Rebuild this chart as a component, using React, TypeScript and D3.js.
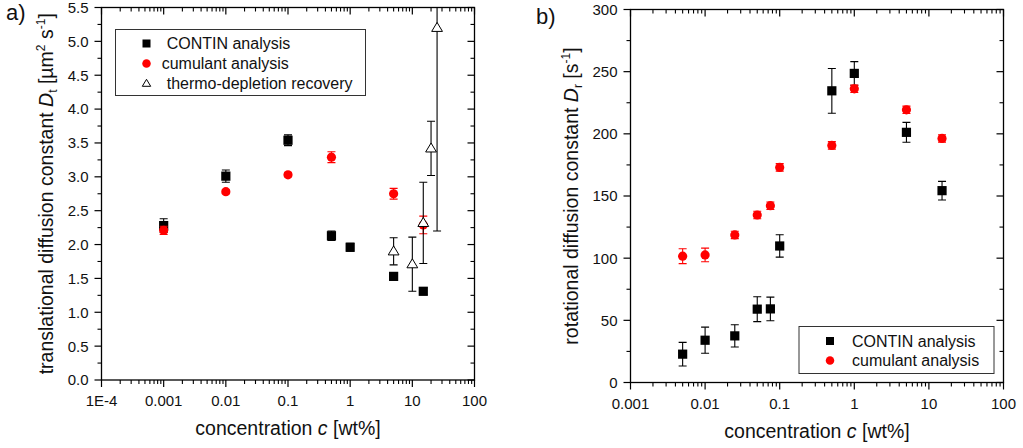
import React from "react";
import * as d3 from "d3";

const FONT = '"Liberation Sans", Arial, Helvetica, sans-serif';

// ---------- Panel a) translational diffusion constant ----------
const aContinC = [0.001, 0.01, 0.1, 0.5, 1, 5, 15];
const aContinD = [2.28, 3.01, 3.54, 2.13, 1.96, 1.53, 1.31];
const aContinErr = [0.1, 0.09, 0.08, 0.07, 0.06, 0.05, 0.05];

const aCumC = [0.001, 0.01, 0.1, 0.5, 5, 15];
const aCumD = [2.21, 2.78, 3.03, 3.29, 2.75, 2.29];
const aCumErr = [0.06, 0.03, 0.03, 0.08, 0.08, 0.13];

const aTdrC = [5, 10, 15, 20, 25];
const aTdrD = [1.9, 1.71, 2.32, 3.42, 5.2];
const aTdrErr = [0.2, 0.4, 0.6, 0.4, 3.0];

const aXTickLabels = ["1E-4", "0.001", "0.01", "0.1", "1", "10", "100"];
const aYTicks = [0, 0.5, 1, 1.5, 2, 2.5, 3, 3.5, 4, 4.5, 5, 5.5];

// ---------- Panel b) rotational diffusion constant ----------
const bC = [0.005, 0.01, 0.025, 0.05, 0.075, 0.1, 0.5, 1, 5, 15];
const bContinD = [22.8, 34, 37.5, 59, 59.2, 109.8, 234.6, 248.6, 201.2, 154.3];
const bContinErr = [9.5, 10.5, 9, 10, 9.5, 9, 18, 9.5, 8, 7.5];
const bCumD = [101.6, 102.6, 118.7, 134.7, 142.2, 173, 190.7, 236.2, 219.3, 196.3];
const bCumErr = [6, 5.5, 3, 3, 3, 3, 3, 3, 3, 3];

const bXTickLabels = ["0.001", "0.01", "0.1", "1", "10", "100"];
const bYTicks = [0, 50, 100, 150, 200, 250, 300];

const legendNames = ["CONTIN analysis", "cumulant analysis", "thermo-depletion recovery"];

type Kind = "square" | "circle" | "triangle";
type Series = { c: number[]; v: number[]; e: number[]; kind: Kind; color: string };

function Marker({ kind, x, y, s, color }: { kind: Kind; x: number; y: number; s: number; color: string }) {
  if (kind === "square")
    return <rect x={x - s / 2} y={y - s / 2} width={s} height={s} fill={color} />;
  if (kind === "circle") return <circle cx={x} cy={y} r={s / 2} fill={color} />;
  const w = s * 1.2;
  const h = s;
  return (
    <path
      d={`M${x},${y - h * 0.6}L${x + w / 2},${y + h * 0.4}L${x - w / 2},${y + h * 0.4}Z`}
      fill="#fff"
      stroke="#000"
      strokeWidth={1}
    />
  );
}

type PanelProps = {
  id: string;
  x0: number;
  x1: number;
  y0: number;
  y1: number;
  xDomain: [number, number];
  xLabels: string[];
  yTicks: number[];
  yFmt: (v: number) => string;
  series: Series[];
  legend: { x: number; y: number; w: number; h: number; rows: { kind: Kind; color: string; name: string; tx: number; dy: number; s: number }[] };
  yTitleX: number;
  yTitle: React.ReactNode;
  tag: string;
  tagX: number;
  tagY: number;
};

function Panel(p: PanelProps) {
  const x = d3.scaleLog().domain(p.xDomain).range([p.x0, p.x1]);
  const yMax = p.yTicks[p.yTicks.length - 1];
  const y = d3.scaleLinear().domain([p.yTicks[0], yMax]).range([p.y1, p.y0]);
  const lo = Math.round(Math.log10(p.xDomain[0]));
  const hi = Math.round(Math.log10(p.xDomain[1]));
  const majors: number[] = [];
  const minors: number[] = [];
  for (let d = lo; d <= hi; d++) {
    majors.push(Math.pow(10, d));
    if (d < hi) for (let k = 2; k <= 9; k++) minors.push(k * Math.pow(10, d));
  }
  const step = p.yTicks[1] - p.yTicks[0];
  const yMinors: number[] = [];
  for (let i = 0; i < p.yTicks.length - 1; i++) yMinors.push(p.yTicks[i] + step / 2);
  const MJ = 7;
  const MN = 4;
  const clipId = `clip-${p.id}`;
  return (
    <g>
      <defs>
        <clipPath id={clipId}>
          <rect x={p.x0} y={p.y0} width={p.x1 - p.x0} height={p.y1 - p.y0} />
        </clipPath>
      </defs>
      {/* frame */}
      <rect x={p.x0} y={p.y0} width={p.x1 - p.x0} height={p.y1 - p.y0} fill="none" stroke="#000" strokeWidth={1.3} />
      {/* x ticks */}
      {majors.map((v, i) => {
        const px = x(v);
        return (
          <g key={"xm" + i}>
            <line x1={px} x2={px} y1={p.y1} y2={p.y1 + MJ} stroke="#000" strokeWidth={1.2} />
            <line x1={px} x2={px} y1={p.y0} y2={p.y0 + MJ} stroke="#000" strokeWidth={1.2} />
            <text x={px} y={p.y1 + 26} fontSize={15} textAnchor="middle" fontFamily={FONT} fill="#111">
              {p.xLabels[i]}
            </text>
          </g>
        );
      })}
      {minors.map((v, i) => {
        const px = x(v);
        return (
          <g key={"xn" + i}>
            <line x1={px} x2={px} y1={p.y1} y2={p.y1 + MN} stroke="#000" strokeWidth={1.1} />
            <line x1={px} x2={px} y1={p.y0} y2={p.y0 + MN} stroke="#000" strokeWidth={1.1} />
          </g>
        );
      })}
      {/* y ticks */}
      {p.yTicks.map((v, i) => {
        const py = y(v);
        return (
          <g key={"ym" + i}>
            <line x1={p.x0 - MJ} x2={p.x0} y1={py} y2={py} stroke="#000" strokeWidth={1.2} />
            <line x1={p.x1 - MJ} x2={p.x1} y1={py} y2={py} stroke="#000" strokeWidth={1.2} />
            <text x={p.x0 - 13} y={py + 5.4} fontSize={15} textAnchor="end" fontFamily={FONT} fill="#111">
              {p.yFmt(v)}
            </text>
          </g>
        );
      })}
      {yMinors.map((v, i) => {
        const py = y(v);
        return (
          <g key={"yn" + i}>
            <line x1={p.x0 - MN} x2={p.x0} y1={py} y2={py} stroke="#000" strokeWidth={1.1} />
            <line x1={p.x1 - MN} x2={p.x1} y1={py} y2={py} stroke="#000" strokeWidth={1.1} />
          </g>
        );
      })}
      {/* data */}
      <g clipPath={`url(#${clipId})`}>
        {p.series.map((s, si) => (
          <g key={"s" + si}>
            {s.c.map((c, i) => {
              const px = x(c);
              const yt = y(s.v[i] + s.e[i]);
              const yb = y(s.v[i] - s.e[i]);
              const col = s.kind === "circle" ? s.color : "#000";
              return (
                <g key={"e" + i}>
                  <line x1={px} x2={px} y1={yt} y2={yb} stroke={col} strokeWidth={1.1} />
                  <line x1={px - 4} x2={px + 4} y1={yt} y2={yt} stroke={col} strokeWidth={1.1} />
                  <line x1={px - 4} x2={px + 4} y1={yb} y2={yb} stroke={col} strokeWidth={1.1} />
                </g>
              );
            })}
            {s.c.map((c, i) => (
              <Marker key={"m" + i} kind={s.kind} x={x(c)} y={y(s.v[i])} s={s.kind === "triangle" ? 9 : 9.2} color={s.color} />
            ))}
          </g>
        ))}
      </g>
      {/* legend */}
      <rect x={p.legend.x} y={p.legend.y} width={p.legend.w} height={p.legend.h} fill="#fff" stroke="#333" strokeWidth={1} />
      {p.legend.rows.map((r, i) => (
        <g key={"l" + i}>
          <Marker kind={r.kind} x={p.legend.x + 31} y={p.legend.y + r.dy} s={r.s} color={r.color} />
          <text x={r.tx} y={p.legend.y + r.dy + 5.5} fontSize={16} fontFamily={FONT} fill="#111">
            {r.name}
          </text>
        </g>
      ))}
      {/* axis titles */}
      <text
        x={(p.x0 + p.x1) / 2}
        y={p.y1 + 55}
        fontSize={19.5}
        textAnchor="middle"
        fontFamily={FONT}
        fill="#111"
      >
        concentration <tspan fontStyle="italic">c</tspan> [wt%]
      </text>
      <text
        transform={`translate(${p.yTitleX},${(p.y0 + p.y1) / 2}) rotate(-90)`}
        fontSize={19.5}
        textAnchor="middle"
        fontFamily={FONT}
        fill="#111"
      >
        {p.yTitle}
      </text>
      <text x={p.tagX} y={p.tagY} fontSize={22} fontFamily={FONT} fill="#111">
        {p.tag}
      </text>
    </g>
  );
}

export default function App() {
  const aSeries: Series[] = [
    { c: aContinC, v: aContinD, e: aContinErr, kind: "square", color: "#000" },
    { c: aCumC, v: aCumD, e: aCumErr, kind: "circle", color: "#ff0000" },
    { c: aTdrC, v: aTdrD, e: aTdrErr, kind: "triangle", color: "#000" },
  ];
  const bSeries: Series[] = [
    { c: bC, v: bContinD, e: bContinErr, kind: "square", color: "#000" },
    { c: bC, v: bCumD, e: bCumErr, kind: "circle", color: "#ff0000" },
  ];
  return (
    <svg
      width={1023}
      height={448}
      style={{ position: "absolute", left: 0, top: 0, background: "#fff" }}
    >
      <rect x={0} y={0} width={1023} height={448} fill="#fff" />
      <Panel
        id="a"
        x0={101.5}
        x1={474.5}
        y0={7.5}
        y1={380}
        xDomain={[1e-4, 100]}
        xLabels={aXTickLabels}
        yTicks={aYTicks}
        yFmt={(v) => v.toFixed(1)}
        series={aSeries}
        legend={{
          x: 115.5,
          y: 29.5,
          w: 250,
          h: 66,
          rows: [
            { kind: "square", color: "#000", name: legendNames[0], tx: 166.7, dy: 14, s: 8 },
            { kind: "circle", color: "#ff0000", name: legendNames[1], tx: 161.7, dy: 34, s: 8.5 },
            { kind: "triangle", color: "#000", name: legendNames[2], tx: 166.7, dy: 54, s: 7 },
          ],
        }}
        yTitleX={53.3}
        yTitle={
          <>
            translational diffusion constant <tspan fontStyle="italic">D</tspan>
            <tspan fontSize={12} dy={4}>t</tspan>
            <tspan dy={-4}> [µm</tspan>
            <tspan fontSize={12} dy={-8}>2</tspan>
            <tspan dy={8}> s</tspan>
            <tspan fontSize={12} dy={-8}>-1</tspan>
            <tspan dy={8}>]</tspan>
          </>
        }
        tag="a)"
        tagX={6}
        tagY={19.5}
      />
      <Panel
        id="b"
        x0={630.5}
        x1={1003.5}
        y0={9.5}
        y1={382.5}
        xDomain={[1e-3, 100]}
        xLabels={bXTickLabels}
        yTicks={bYTicks}
        yFmt={(v) => String(v)}
        series={bSeries}
        legend={{
          x: 799,
          y: 326.5,
          w: 195,
          h: 47,
          rows: [
            { kind: "square", color: "#000", name: legendNames[0], tx: 852, dy: 14.5, s: 8 },
            { kind: "circle", color: "#ff0000", name: legendNames[1], tx: 852, dy: 34, s: 8.5 },
          ],
        }}
        yTitleX={578}
        yTitle={
          <>
            rotational diffusion constant <tspan fontStyle="italic">D</tspan>
            <tspan fontSize={12} dy={4}>r</tspan>
            <tspan dy={-4}> [s</tspan>
            <tspan fontSize={12} dy={-8}>-1</tspan>
            <tspan dy={8}>]</tspan>
          </>
        }
        tag="b)"
        tagX={536}
        tagY={24}
      />
    </svg>
  );
}
